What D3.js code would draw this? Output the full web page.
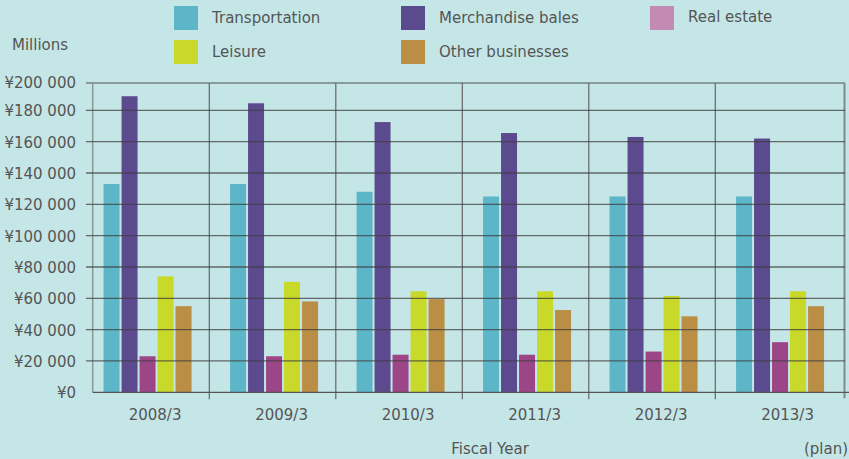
<!DOCTYPE html>
<html><head><meta charset="utf-8">
<script src="https://cdn.jsdelivr.net/npm/d3@7"></script>
<style>
html,body{margin:0;padding:0;background:#c5e6e7;}
svg{display:block;font-family:"DejaVu Sans",sans-serif;}
</style></head>
<body><svg id="c" width="849" height="459"></svg>
<script>
const years = ["2008/3","2009/3","2010/3","2011/3","2012/3","2013/3"];
const seriesNames = ["Transportation","Merchandise bales","Real estate","Leisure","Other businesses"];
const transportation = [133000,133000,128000,125000,125000,125000];
const merchandise    = [189000,184500,172500,165500,163000,162000];
const realEstate     = [23000,23000,24000,24000,26000,32000];
const leisure        = [74000,70500,64500,64500,61500,64500];
const other          = [55000,58000,59500,52500,48500,55000];
const yTicks = [0,20000,40000,60000,80000,100000,120000,140000,160000,180000,200000];
const barColors = ["#5db5c8","#5c4a8e","#9c4688","#c8d92a","#bb8e45"];
const legendColors = ["#5db5c8","#5c4a8e","#c48ab3","#c8d92a","#bb8e45"];

const values = [transportation, merchandise, realEstate, leisure, other];
const svg = d3.select("#c");
const textColor = "#555555";
const fs = 15;

const y = d3.scaleLinear().domain([0,200000]).range([392.3, 79]);
const x0 = d3.scaleBand().domain(years).range([82.8, 841.8]);
const x1 = d3.scaleBand().domain(seriesNames).range([0, 88]).paddingInner(0.111);

// frame lines
const frameTop = 83;
svg.append("line").attr("x1",86).attr("x2",845).attr("y1",frameTop).attr("y2",frameTop)
  .attr("stroke","#8a9b9b").attr("stroke-width",2);
svg.append("line").attr("x1",92.7).attr("x2",92.7).attr("y1",frameTop).attr("y2",y(0))
  .attr("stroke","#8a9797").attr("stroke-width",1.5);
svg.append("line").attr("x1",844.5).attr("x2",844.5).attr("y1",frameTop).attr("y2",y(0)+6)
  .attr("stroke","#7f8c8c").attr("stroke-width",2);
years.slice(1).forEach(yr=>{
  const xx = x0(yr);
  svg.append("line").attr("x1",xx).attr("x2",xx).attr("y1",frameTop).attr("y2",y(0)+7)
    .attr("stroke","#666").attr("stroke-width",1.2);
});

// bars
const g = svg.append("g");
years.forEach((yr,i)=>{
  const gx = x0(yr) + (x0.bandwidth()-88)/2 + 1.5;
  seriesNames.forEach((s,j)=>{
    g.append("rect").attr("x", gx + x1(s)).attr("width", x1.bandwidth())
      .attr("y", y(values[j][i])).attr("height", y(0)-y(values[j][i]))
      .attr("fill", barColors[j]);
  });
});

// gridlines (over bars)
yTicks.filter(t=>t>0 && t<200000).forEach(t=>{
  svg.append("line").attr("x1",86).attr("x2",845).attr("y1",y(t)).attr("y2",y(t))
    .attr("stroke","#3d3d3d").attr("stroke-opacity",0.75).attr("stroke-width",1.3);
});
svg.append("line").attr("x1",92.7).attr("x2",849).attr("y1",y(0)).attr("y2",y(0))
  .attr("stroke","#555").attr("stroke-width",1.3);

// y labels
const fmt = v => "¥" + (v===0 ? "0" : d3.format(",")(v).replace(/,/g," "));
yTicks.forEach(t=>{
  svg.append("text").attr("x",76).attr("y", t===200000 ? 83 : y(t)+1.5)
    .attr("text-anchor","end").attr("dominant-baseline","middle")
    .attr("font-size",fs).attr("fill",textColor).text(fmt(t));
});

// x labels
years.forEach(yr=>{
  svg.append("text").attr("x", x0(yr)+x0.bandwidth()/2+9).attr("y",415)
    .attr("text-anchor","middle").attr("dominant-baseline","middle")
    .attr("font-size",fs).attr("fill",textColor).text(yr);
});
svg.append("text").attr("x",490).attr("y",449).attr("text-anchor","middle")
  .attr("dominant-baseline","middle").attr("font-size",fs).attr("fill",textColor).text("Fiscal Year");
svg.append("text").attr("x",848).attr("y",449).attr("text-anchor","end")
  .attr("dominant-baseline","middle").attr("font-size",fs).attr("fill",textColor).text("(plan)");
svg.append("text").attr("x",12).attr("y",45).attr("dominant-baseline","middle")
  .attr("font-size",fs).attr("fill",textColor).text("Millions");

// legend
const legPos = [[174,6],[401,6],[650,6],[174,40],[401,40]];
seriesNames.forEach((s,j)=>{
  const [lx,ly] = legPos[j];
  svg.append("rect").attr("x",lx).attr("y",ly).attr("width",24).attr("height",24).attr("fill",legendColors[j]);
  svg.append("text").attr("x",lx+38).attr("y",ly+12 - (j===2?1:0)).attr("dominant-baseline","middle")
    .attr("font-size",fs).attr("fill",textColor).text(s);
});
</script></body></html>
